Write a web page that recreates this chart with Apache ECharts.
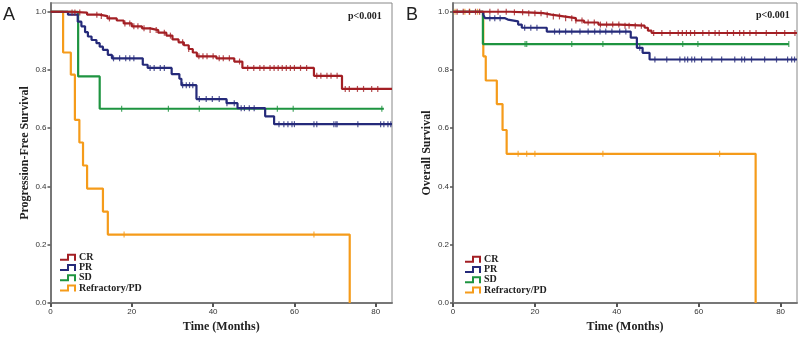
<!DOCTYPE html>
<html>
<head>
<meta charset="utf-8">
<script src="https://cdn.jsdelivr.net/npm/echarts@6/dist/echarts.min.js"></script>
<style>
  html, body { margin: 0; padding: 0; background: #fff; }
  #chart { width: 800px; height: 338px; }
</style>
</head>
<body>
<div id="chart"></div>
<script>
// tick labels
var xTicks = [0, 20, 40, 60, 80];
var yTicks = [0, 0.2, 0.4, 0.6, 0.8, 1.0];
var groups = ["CR", "PR", "SD", "Refractory/PD"];

// panel A, progression-free survival: [month, survival after event]
var pfsCR = [[0,1],[5,0.997],[9,0.99],[12,0.985],[14,0.977],[16.3,0.97],[18,0.96],[20,0.95],[22.5,0.943],[24.5,0.937],[26.5,0.928],[28.5,0.918],[30,0.905],[31.5,0.895],[32.8,0.885],[34,0.872],[35,0.86],[36,0.847],[40.8,0.84],[45.2,0.829],[47.2,0.807],[64.8,0.78],[71.7,0.735],[84,0.735]];
var pfsPR = [[0,1],[4.3,0.99],[6.7,0.966],[7.6,0.95],[8.5,0.93],[9.2,0.915],[10.1,0.903],[11.3,0.892],[12.1,0.88],[12.9,0.869],[14.1,0.852],[15.1,0.84],[22.7,0.818],[23.9,0.807],[29.8,0.786],[31.7,0.77],[32.2,0.748],[35.9,0.70],[43.3,0.686],[46,0.669],[52.8,0.641],[55,0.614],[84,0.614]];
var pfsSD = [[0,1],[6.8,0.778],[12.1,0.667],[82,0.667]];
var pfsPD = [[0,1],[3.1,0.86],[5.0,0.784],[6.0,0.629],[7.1,0.551],[8.0,0.472],[9.0,0.393],[12.9,0.314],[14.1,0.235],[73.6,0]];

// panel A censored times
var cenPfsCR = [5.3,6,7.2,11.4,12.5,14.5,18.3,19.5,20.5,21.5,23,24.5,26,28,29.5,32.5,34,36.5,37.5,38.5,40,41.5,42.5,44,46.5,48.5,50,51.5,52.5,54,55,56,57,58,59,60,61.5,63,65.5,66.5,68,69,70.5,72.5,73.5,75.5,77,79,80.5];
var cenPfsPR = [15.5,17,18.5,19.5,20.5,24.5,25.5,27,28,32.5,33.4,34.2,35,36.6,38.3,39.8,41.5,43.4,45.2,46.9,47.7,48.9,50.1,56.2,57.4,58.4,59.4,60,64.8,65.5,69.7,70.2,70.5,75.6,81.2,82,83,83.7];
var cenPfsSD = [17.5,29,36.6,55.8,59.7,81.5];
var cenPfsPD = [18.1,64.8];

// panel B, overall survival
var osCR = [[0,1],[14,0.998],[18,0.995],[22,0.99],[24,0.984],[27,0.978],[30,0.97],[32,0.963],[35.5,0.956],[40.7,0.952],[46.8,0.945],[47.6,0.935],[48.5,0.927],[84,0.927]];
var osPR = [[0,1],[7.4,0.99],[7.8,0.978],[12.7,0.973],[13.4,0.967],[15.9,0.956],[16.8,0.945],[22.9,0.932],[43.4,0.911],[44.9,0.876],[46.3,0.859],[48,0.836],[84,0.836]];
var osSD = [[0,1],[7.3,0.889],[82,0.889]];
var osPD = [[0,1],[7.4,0.847],[8.0,0.764],[10.7,0.683],[12.1,0.594],[13.1,0.512],[73.9,0]];

var cenOsCR = [1,2.5,4,5.5,6.5,9,11,13,15,17,18.5,20,21.5,23,24.5,26,27.5,29,30,31.5,33,34.5,36,37.5,39,40.5,42,43,44.5,46,49,51,53,55,56,57,58,59,61,62.5,64,65,67,68.5,70,71,72.5,74,76.5,79,81,83.5];
var cenOsPR = [9,10.2,11.5,17.5,19,20.5,24.8,26,27.5,29,31,33,34.6,35.9,37.3,38.8,40.7,42.2,45.6,49.3,52.2,55.4,56.6,57.3,58.3,59,60.7,63.2,65.6,68.8,70.5,71.2,72.9,76.1,79,81.7,82.7,83.4];
var cenOsSD = [17.6,18,29,36.6,56.1,59.8,82];
var cenOsPD = [0.5,2.9,4.1,6,15.9,18,20,36.6,65.1];

var colors = ["#a31f24", "#252a7a", "#1e9440", "#f59b1a"];
var serif = "'Times New Roman', 'Liberation Serif', serif";
var sans = "Arial, 'Liberation Sans', sans-serif";

// survival at time t on a step curve
function survAt(curve, t) {
  var s = curve[0][1];
  for (var i = 0; i < curve.length; i++) {
    if (curve[i][0] <= t) s = curve[i][1];
  }
  return s;
}

var series = [];
function addPanel(idx, curves, censored) {
  curves.forEach(function (c, i) {
    series.push({
      name: groups[i],
      type: "line",
      step: "end",
      xAxisIndex: idx,
      yAxisIndex: idx,
      data: c,
      showSymbol: false,
      lineStyle: { color: colors[i], width: 2.2 },
      itemStyle: { color: colors[i] },
      z: 2 + (3 - i),
    });
    series.push({
      name: groups[i] + " censored",
      type: "scatter",
      xAxisIndex: idx,
      yAxisIndex: idx,
      symbol: "rect",
      symbolSize: [1.2, 6],
      itemStyle: { color: colors[i] },
      data: censored[i].map(function (t) { return [t, survAt(c, t)]; }),
      z: 2 + (3 - i),
    });
  });
}
addPanel(0, [pfsCR, pfsPR, pfsSD, pfsPD], [cenPfsCR, cenPfsPR, cenPfsSD, cenPfsPD]);
addPanel(1, [osCR, osPR, osSD, osPD], [cenOsCR, cenOsPR, cenOsSD, cenOsPD]);

function xAxis(idx) {
  return {
    type: "value",
    gridIndex: idx,
    min: 0,
    max: 84,
    name: "Time (Months)",
    nameLocation: "middle",
    nameGap: 18,
    nameTextStyle: { fontFamily: serif, fontWeight: "bold", fontSize: 12, color: "#222" },
    axisLine: { lineStyle: { color: "#777", width: 2 } },
    axisTick: { length: 4, customValues: xTicks, lineStyle: { color: "#555", width: 2 } },
    axisLabel: { customValues: xTicks, fontFamily: sans, fontSize: 8, color: "#333", margin: 5 },
    splitLine: { show: false },
  };
}
function yAxis(idx, title) {
  return {
    type: "value",
    gridIndex: idx,
    min: 0,
    max: 1.03,
    name: title,
    nameLocation: "middle",
    nameGap: 20,
    nameTextStyle: { fontFamily: serif, fontWeight: "bold", fontSize: 12, color: "#222" },
    axisLine: { lineStyle: { color: "#777", width: 2 } },
    axisTick: { length: 3, customValues: yTicks, lineStyle: { color: "#555", width: 1.5 } },
    axisLabel: {
      customValues: yTicks,
      fontFamily: sans,
      fontSize: 8,
      color: "#333",
      margin: 4,
      formatter: function (v) { return v.toFixed(1); },
    },
    splitLine: { show: false },
  };
}

var legendIcon = "path://M0,5L7,5L7,0L16,0L16,7L14,7L14,2L9,2L9,7L0,7Z";
function legend(left, top) {
  return {
    orient: "vertical",
    left: left,
    top: top,
    data: groups.map(function (g) { return { name: g, icon: legendIcon }; }),
    itemWidth: 18,
    itemHeight: 7,
    itemGap: 0,
    selectedMode: false,
    textStyle: { fontFamily: serif, fontWeight: "bold", fontSize: 10, color: "#222", lineHeight: 10.3, padding: [0, 0, 0, -3] },
    padding: 0,
  };
}

var chart = echarts.init(document.getElementById("chart"), null, { renderer: "canvas" });
chart.setOption({
  animation: false,
  backgroundColor: "#fff",
  grid: [
    { left: 50.5, right: 408, top: 3, bottom: 35, show: true, borderColor: "#888", borderWidth: 1 },
    { left: 453, right: 3, top: 3, bottom: 33, show: true, borderColor: "#888", borderWidth: 1 },
  ],
  xAxis: [xAxis(0), xAxis(1)],
  yAxis: [yAxis(0, "Progression-Free Survival"), yAxis(1, "Overall Survival")],
  legend: [legend(60, 252), legend(465, 254)],
  graphic: [
    { type: "text", left: 3, top: 6, style: { text: "A", fontFamily: sans, fontSize: 18, fill: "#222" } },
    { type: "text", left: 406, top: 6, style: { text: "B", fontFamily: sans, fontSize: 18, fill: "#222" } },
    { type: "text", left: 348, top: 11, style: { text: "p<0.001", fontFamily: serif, fontWeight: "bold", fontSize: 10, fill: "#222" } },
    { type: "text", left: 756, top: 10, style: { text: "p<0.001", fontFamily: serif, fontWeight: "bold", fontSize: 10, fill: "#222" } },
  ],
  series: series,
});
</script>
</body>
</html>
